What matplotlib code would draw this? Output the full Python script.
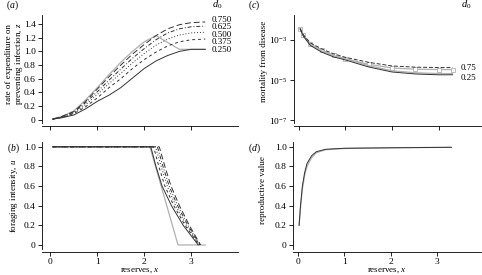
import matplotlib
matplotlib.use("Agg")
import matplotlib.pyplot as plt
import numpy as np

plt.rcParams['font.family'] = 'Liberation Serif'
plt.rcParams['font.size'] = 7
plt.rcParams['mathtext.fontset'] = 'custom'
plt.rcParams['mathtext.rm'] = 'Liberation Serif'
plt.rcParams['mathtext.it'] = 'Liberation Serif:italic'

# d0 levels and line styles
d0_labels = ['0.750', '0.625', '0.500', '0.375', '0.250']
styles = [(0, (6, 3)), (0, (4, 2, 1, 2)), (0, (1, 2)), (0, (3, 3)), '-']

# (a) expenditure on preventing infection
xa = [0.05, 0.25, 0.5, 0.75, 1.0, 1.25, 1.5, 1.75, 2.0, 2.25, 2.5, 2.75, 3.0, 3.3]
za = {
    '0.750': [0.01, 0.05, 0.12, 0.27, 0.45, 0.63, 0.80, 0.96, 1.10, 1.23, 1.33, 1.39, 1.42, 1.43],
    '0.625': [0.01, 0.045, 0.11, 0.25, 0.41, 0.58, 0.74, 0.90, 1.04, 1.17, 1.27, 1.33, 1.36, 1.37],
    '0.500': [0.01, 0.04, 0.10, 0.22, 0.37, 0.53, 0.68, 0.83, 0.97, 1.09, 1.18, 1.24, 1.27, 1.28],
    '0.375': [0.01, 0.035, 0.09, 0.19, 0.32, 0.47, 0.60, 0.75, 0.88, 0.99, 1.08, 1.14, 1.17, 1.18],
    '0.250': [0.01, 0.03, 0.07, 0.16, 0.27, 0.36, 0.47, 0.61, 0.75, 0.86, 0.94, 1.00, 1.03, 1.03],
}
xa_grey = [0.05, 0.25, 0.5, 0.75, 1.0, 1.25, 1.5, 1.75, 2.0, 2.25, 2.75, 3.3]
za_grey = [0.01, 0.05, 0.13, 0.29, 0.47, 0.66, 0.84, 1.00, 1.14, 1.23, 1.03, 1.03]

# (b) foraging intensity: x where u reaches each level
ub_levels = [1, 1, 0.8, 0.6, 0.4, 0.2, 0]
xb = {
    '0.750': [0.05, 2.32, 2.44, 2.57, 2.75, 2.96, 3.20],
    '0.625': [0.05, 2.28, 2.40, 2.53, 2.71, 2.93, 3.19],
    '0.500': [0.05, 2.24, 2.36, 2.49, 2.67, 2.90, 3.18],
    '0.375': [0.05, 2.20, 2.31, 2.44, 2.63, 2.87, 3.17],
    '0.250': [0.05, 2.14, 2.25, 2.38, 2.58, 2.83, 3.15],
}
xb_grey = [0.05, 2.12, 2.72, 3.3]
ub_grey = [1, 1, 0, 0]

# (c) mortality from disease (log10 values)
xc = [0.03, 0.1, 0.25, 0.5, 0.75, 1.0, 1.5, 2.0, 2.5, 3.0, 3.3]
logm_hi = [-2.45, -2.75, -3.15, -3.46, -3.70, -3.87, -4.12, -4.30, -4.36, -4.38, -4.38]
logm_mid = [-2.45, -2.78, -3.20, -3.52, -3.77, -3.94, -4.22, -4.40, -4.46, -4.48, -4.48]
logm_lo = [-2.45, -2.82, -3.28, -3.62, -3.85, -4.00, -4.35, -4.60, -4.70, -4.74, -4.74]
c_labels = ['0.75', '0.25']

# (d) reproductive value
xd = [0.03, 0.06, 0.1, 0.15, 0.2, 0.3, 0.4, 0.6, 1.0, 2.0, 3.3]
vd = [0.20, 0.40, 0.60, 0.74, 0.83, 0.91, 0.95, 0.975, 0.985, 0.99, 0.995]
vd_grey = [0.20, 0.38, 0.57, 0.71, 0.80, 0.89, 0.94, 0.97, 0.983, 0.99, 0.995]

ink = '#333333'
grey = '#b0b0b0'
lab_fs = 6.5

fig = plt.figure(figsize=(4.82, 2.75), dpi=100)
axa = fig.add_axes([0.087, 0.552, 0.407, 0.393])
axb = fig.add_axes([0.087, 0.095, 0.407, 0.389])
axc = fig.add_axes([0.610, 0.552, 0.387, 0.393])
axd = fig.add_axes([0.608, 0.095, 0.389, 0.389])

for ax in (axa, axb, axc, axd):
    for s in ('top', 'right'):
        ax.spines[s].set_visible(False)
    for s in ('left', 'bottom'):
        ax.spines[s].set_linewidth(0.6)
    ax.spines['bottom'].set_position(('outward', 2))
    ax.tick_params(direction='out', length=3, width=0.6, pad=1.5, labelsize=6.8)
    ax.set_xticks([0, 1, 2, 3])

# (a)
axa.plot(xa_grey, za_grey, color=grey, lw=0.9)
for lab, ls in zip(d0_labels, styles):
    axa.plot(xa, za[lab], color=ink, lw=0.7, ls=ls)
for lab, ty in zip(d0_labels, [1.46, 1.355, 1.245, 1.13, 1.015]):
    axa.text(3.43, ty, lab, va='center', ha='left', fontsize=6.5)
axa.set_xlim(-0.18, 4.0)
axa.set_ylim(-0.05, 1.53)
axa.set_yticks(np.arange(0, 1.41, 0.2))
axa.set_yticklabels(['0'] + ['%.1f' % v for v in np.arange(0.2, 1.41, 0.2)])
axa.set_xticklabels([])
axa.set_ylabel('rate of expenditure on\npreventing infection, $z$', fontsize=lab_fs, linespacing=1.0)
axa.yaxis.set_label_coords(-0.085, 0.55)

# (b)
axb.plot(xb_grey, ub_grey, color=grey, lw=0.9)
for lab, ls in zip(d0_labels, styles):
    axb.plot(xb[lab], ub_levels, color=ink, lw=0.7, ls=ls)
axb.set_xlim(-0.18, 4.0)
axb.set_ylim(-0.04, 1.05)
axb.set_yticks(np.arange(0, 1.01, 0.2))
axb.set_yticklabels(['0'] + ['%.1f' % v for v in np.arange(0.2, 1.01, 0.2)])
axb.set_ylabel('foraging intensity, $u$', fontsize=lab_fs)
axb.yaxis.set_label_coords(-0.11, 0.5)
axb.set_xlabel('reserves, $x$', fontsize=lab_fs)
axb.xaxis.set_label_coords(0.5, -0.165)

# (c)
axc.set_yscale('log')
axc.plot(xc, 10 ** np.array(logm_mid), color=grey, lw=0.9, marker='s', ms=2.5,
         mfc='white', mec=grey, mew=0.6)
axc.plot(xc, 10 ** np.array(logm_lo) * 1.15, color=grey, lw=0.9)
axc.plot(xc, 10 ** np.array(logm_hi), color=ink, lw=0.7, ls=(0, (4, 2)))
axc.plot(xc, 10 ** np.array(logm_lo), color=ink, lw=0.7)
axc.text(3.47, 10 ** -4.38, c_labels[0], va='center', ha='left', fontsize=6.5)
axc.text(3.47, 10 ** -4.9, c_labels[1], va='center', ha='left', fontsize=6.5)
axc.set_xlim(-0.1, 3.9)
axc.set_ylim(10 ** -7.15, 10 ** -1.77)
axc.set_yticks([1e-7, 1e-5, 1e-3])
axc.set_yticklabels([r'$10^{-7}$', r'$10^{-5}$', r'$10^{-3}$'])
axc.minorticks_off()
axc.set_xticklabels([])
axc.set_ylabel('mortality from disease', fontsize=lab_fs)
axc.yaxis.set_label_coords(-0.14, 0.57)

# (d)
axd.plot(xd, vd_grey, color=grey, lw=0.9)
axd.plot(xd, vd, color=ink, lw=0.7)
axd.set_xlim(-0.1, 3.93)
axd.set_ylim(-0.04, 1.05)
axd.set_yticks(np.arange(0, 1.01, 0.2))
axd.set_yticklabels(['0'] + ['%.1f' % v for v in np.arange(0.2, 1.01, 0.2)])
axd.set_ylabel('reproductive value', fontsize=lab_fs)
axd.yaxis.set_label_coords(-0.14, 0.55)
axd.set_xlabel('reserves, $x$', fontsize=lab_fs)
axd.xaxis.set_label_coords(0.5, -0.165)

# panel letters and d0 headers
fig.text(0.012, 0.98, '($a$)', ha='left', va='center', fontsize=7)
fig.text(0.014, 0.462, '($b$)', ha='left', va='center', fontsize=7)
fig.text(0.515, 0.98, '($c$)', ha='left', va='center', fontsize=7)
fig.text(0.515, 0.462, '($d$)', ha='left', va='center', fontsize=7)
fig.text(0.45, 0.982, '$d_0$', ha='center', va='center', fontsize=7.5)
fig.text(0.967, 0.982, '$d_0$', ha='center', va='center', fontsize=7.5)

fig.savefig('out.png', dpi=100)
